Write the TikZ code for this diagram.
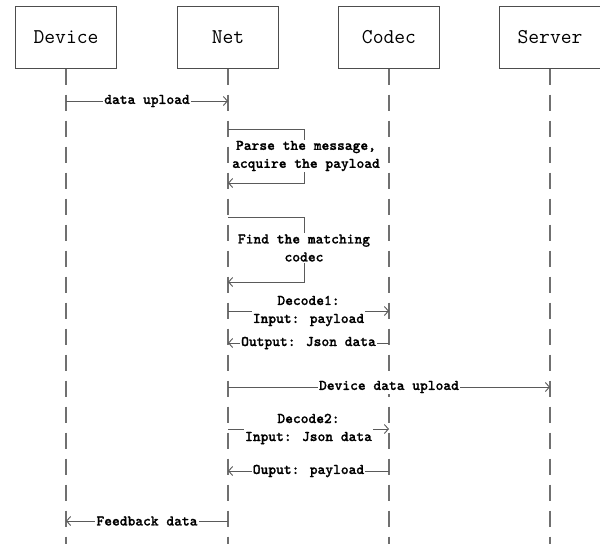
\documentclass[tikz,border=0pt]{standalone}
\usepackage{fontspec}
\newfontfamily\lblfont{lmmonolt10-bold}[Extension=.otf, FakeBold=1]
\usetikzlibrary{arrows.meta}
\definecolor{boxgray}{HTML}{4D4D4D}
\definecolor{lifegray}{HTML}{707070}
\definecolor{msggray}{HTML}{5A5A5A}
\begin{document}
\begin{tikzpicture}[x=1pt,y=-1pt,
  actor/.style={draw=boxgray, line width=1pt, minimum width=101pt, minimum height=62pt, inner sep=0pt, font=\ttfamily\fontsize{21}{22}\selectfont},
  life/.style={draw=lifegray, line width=1.2pt, dash pattern=on 16pt off 10pt},
  msg/.style={draw=msggray, line width=0.9pt, -{Straight Barb[length=4pt,width=9pt]}},
  lbl/.style={fill=white, inner sep=1pt, font=\lblfont\fontsize{14.8}{18}\selectfont, align=center, text=black}]
\useasboundingbox (0,0) rectangle (600,544);
% actors
\node[actor] (dev) at (66,37) {Device};
\node[actor] (net) at (228,37) {Net};
\node[actor] (cod) at (389,37) {Codec};
\node[actor] (srv) at (550,37) {Server};
% lifeline ends
\coordinate (devb) at (66,544);
\coordinate (netb) at (228,544);
\coordinate (codb) at (389,544);
\coordinate (srvb) at (550,544);
\draw[life] (dev.south) -- (devb);
\draw[life] (net.south) -- (netb);
\draw[life] (cod.south) -- (codb);
\draw[life] (srv.south) -- (srvb);
% 1 data upload
\coordinate (m1s) at (66,101); \coordinate (m1e) at (228,101);
\draw[msg] (m1s) -- node[lbl] (l1) {data upload} (m1e);
% 2 parse (self)
\coordinate (p1) at (228,129); \coordinate (p2) at (304,129);
\coordinate (p3) at (304,183); \coordinate (p4) at (228,183);
\draw[msg] (p1) -- (p2) -- (p3) -- (p4);
\node[lbl] (l2) at (306,156) {Parse the message,\\acquire the payload};
% 3 find (self)
\coordinate (f1) at (228,217); \coordinate (f2) at (304,217);
\coordinate (f3) at (304,282); \coordinate (f4) at (228,282);
\draw[msg] (f1) -- (f2) -- (f3) -- (f4);
\node[lbl] (l3) at (304,248) {Find the matching\\codec};
% 4 decode1
\coordinate (d1s) at (228,311); \coordinate (d1e) at (389,311);
\draw[msg] (d1s) -- node[lbl] (l4) {Decode1:\\Input: payload} (d1e);
% 5 output json
\coordinate (o1s) at (389,343); \coordinate (o1e) at (228,343);
\draw[msg] (o1s) -- node[lbl] (l5) {Output: Json data} (o1e);
% 6 device data upload
\coordinate (u1s) at (228,387); \coordinate (u1e) at (550,387);
\draw[msg] (u1s) -- node[lbl] (l6) {Device data upload} (u1e);
% 7 decode2
\coordinate (d2s) at (228,429); \coordinate (d2e) at (389,429);
\draw[msg] (d2s) -- node[lbl] (l7) {Decode2:\\Input: Json data} (d2e);
% 8 output payload
\coordinate (o2s) at (389,471); \coordinate (o2e) at (228,471);
\draw[msg] (o2s) -- node[lbl] (l8) {Ouput: payload} (o2e);
% 9 feedback
\coordinate (fbs) at (228,521); \coordinate (fbe) at (66,521);
\draw[msg] (fbs) -- node[lbl] (l9) {Feedback data} (fbe);
\end{tikzpicture}
\end{document}
